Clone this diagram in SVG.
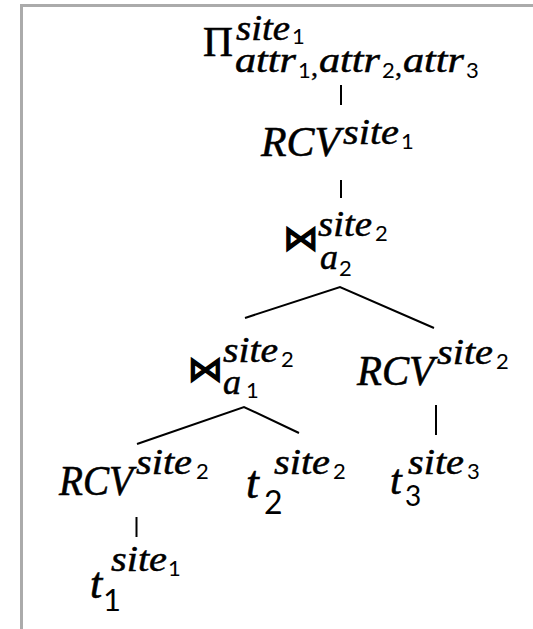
<svg xmlns="http://www.w3.org/2000/svg" width="533" height="629" viewBox="0 0 533 629">
  <style>
    .frame { fill: none; stroke: #ababab; stroke-width: 3; }
    .edge { fill: none; stroke: #000; stroke-width: 2; stroke-linejoin: miter; }
    text { fill: #000; }
    .op { font-family: "Liberation Serif", serif; font-size: 42px; stroke: #000; stroke-width: 0.6; }
    .bt { font-family: "DejaVu Sans", sans-serif; font-size: 35px; text-anchor: middle; stroke: #000; stroke-width: 1.4; }
    .m { font-family: "Liberation Serif", serif; font-style: italic; font-size: 42px; stroke: #000; stroke-width: 0.6; }
    .s { font-family: "Liberation Serif", serif; font-style: italic; font-size: 36px; stroke: #000; stroke-width: 0.5; }
    .cm { font-family: "Liberation Serif", serif; font-size: 28px; stroke: #000; stroke-width: 0.4; }
    .d1 { font-family: Lato, "Open Sans", sans-serif; font-size: 31px; }
    .d2 { font-family: Lato, "Open Sans", sans-serif; font-size: 22px; }
  </style>

  <!-- page frame (top and left edges) -->
  <path class="frame" d="M21.5,629 V5.5 H533"/>

  <!-- tree edges -->
  <g id="connectors">
    <line class="edge" x1="341" y1="85" x2="341" y2="105"/>
    <line class="edge" x1="341" y1="180" x2="341" y2="198"/>
    <polyline class="edge" points="245,318 340,287 434,328"/>
    <polyline class="edge" points="137,444 244,407 299,433"/>
    <line class="edge" x1="436" y1="405" x2="436" y2="435"/>
    <line class="edge" x1="136.5" y1="517" x2="136.5" y2="537"/>
  </g>

  <!-- projection at site 1 -->
  <g id="proj">
    <text class="op" x="203" y="56" textLength="30" lengthAdjust="spacingAndGlyphs">Π</text>
    <text class="s" x="236" y="40" textLength="54" lengthAdjust="spacingAndGlyphs">site</text>
    <text class="d2" x="292" y="44">1</text>
    <text class="s" x="235" y="72" textLength="61" lengthAdjust="spacingAndGlyphs">attr</text>
    <text class="d2" x="298" y="78">1</text>
    <text class="cm" x="311" y="76">,</text>
    <text class="s" x="319" y="72" textLength="61" lengthAdjust="spacingAndGlyphs">attr</text>
    <text class="d2" x="382" y="78">2</text>
    <text class="cm" x="395" y="76">,</text>
    <text class="s" x="403" y="72" textLength="61" lengthAdjust="spacingAndGlyphs">attr</text>
    <text class="d2" x="466" y="78">3</text>
  </g>

  <!-- receive at site 1 -->
  <g id="rcv1">
    <text class="m" x="261" y="156" textLength="79" lengthAdjust="spacingAndGlyphs">RCV</text>
    <text class="s" x="343" y="144" textLength="56" lengthAdjust="spacingAndGlyphs">site</text>
    <text class="d2" x="401" y="149">1</text>
  </g>

  <!-- join on a2 at site 2 -->
  <g id="join2">
    <text class="bt" x="300.5" y="250">⋈</text>
    <text class="s" x="318" y="236" textLength="54" lengthAdjust="spacingAndGlyphs">site</text>
    <text class="d2" x="375" y="241">2</text>
    <text class="s" x="320" y="269">a</text>
    <text class="d2" x="339" y="276">2</text>
  </g>

  <!-- join on a1 at site 2 -->
  <g id="join1">
    <text class="bt" x="205" y="381">⋈</text>
    <text class="s" x="223" y="362" textLength="55" lengthAdjust="spacingAndGlyphs">site</text>
    <text class="d2" x="281" y="367">2</text>
    <text class="s" x="223" y="394">a</text>
    <text class="d2" x="246" y="398">1</text>
  </g>

  <!-- receive at site 2 (right branch) -->
  <g id="rcv2r">
    <text class="m" x="357" y="385" textLength="77" lengthAdjust="spacingAndGlyphs">RCV</text>
    <text class="s" x="437" y="364" textLength="56" lengthAdjust="spacingAndGlyphs">site</text>
    <text class="d2" x="496" y="369">2</text>
  </g>

  <!-- receive at site 2 (left branch) -->
  <g id="rcv2l">
    <text class="m" x="59" y="495" textLength="74" lengthAdjust="spacingAndGlyphs">RCV</text>
    <text class="s" x="136" y="474" textLength="56" lengthAdjust="spacingAndGlyphs">site</text>
    <text class="d2" x="196" y="479">2</text>
  </g>

  <!-- table t2 at site 2 -->
  <g id="t2">
    <text class="m" x="246" y="498" style="font-size:46px">t</text>
    <text class="d1" x="264" y="514" style="font-size:32px">2</text>
    <text class="s" x="274" y="474" textLength="56" lengthAdjust="spacingAndGlyphs">site</text>
    <text class="d2" x="333" y="479">2</text>
  </g>

  <!-- table t3 at site 3 -->
  <g id="t3">
    <text class="m" x="390" y="494">t</text>
    <text class="d1" x="405" y="506" style="font-size:28px">3</text>
    <text class="s" x="408" y="474" textLength="56" lengthAdjust="spacingAndGlyphs">site</text>
    <text class="d2" x="467" y="479">3</text>
  </g>

  <!-- table t1 at site 1 -->
  <g id="t1">
    <text class="m" x="90" y="598" style="font-size:44px">t</text>
    <text class="d1" x="103" y="611">1</text>
    <text class="s" x="111" y="571" textLength="56" lengthAdjust="spacingAndGlyphs">site</text>
    <text class="d2" x="168" y="576">1</text>
  </g>
</svg>
